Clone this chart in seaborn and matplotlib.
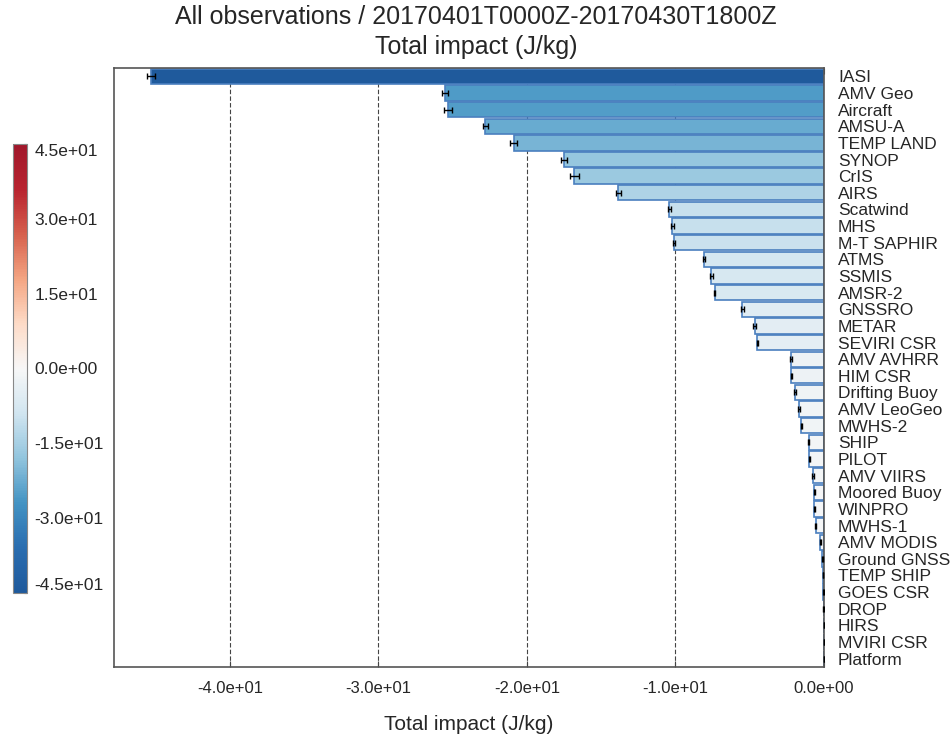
import numpy as np
import pandas as pd
import matplotlib
matplotlib.use("Agg")
import matplotlib.pyplot as plt
import seaborn as sns
from matplotlib import colors as mcolors, cm
from matplotlib.ticker import FixedLocator, FormatStrFormatter

# Observation types, ordered by total impact (most beneficial first)
obs_types = [
    "IASI", "AMV Geo", "Aircraft", "AMSU-A", "TEMP LAND", "SYNOP", "CrIS",
    "AIRS", "Scatwind", "MHS", "M-T SAPHIR", "ATMS", "SSMIS", "AMSR-2",
    "GNSSRO", "METAR", "SEVIRI CSR", "AMV AVHRR", "HIM CSR", "Drifting Buoy",
    "AMV LeoGeo", "MWHS-2", "SHIP", "PILOT", "AMV VIIRS", "Moored Buoy",
    "WINPRO", "MWHS-1", "AMV MODIS", "Ground GNSS", "TEMP SHIP", "GOES CSR",
    "DROP", "HIRS", "MVIRI CSR", "Platform",
]

# Total impact (J/kg)
impact = [
    -45.3, -25.5, -25.3, -22.8, -20.9, -17.5, -16.8,
    -13.85, -10.4, -10.2, -10.1, -8.06, -7.58, -7.37,
    -5.50, -4.66, -4.48, -2.24, -2.20, -1.97,
    -1.68, -1.52, -1.02, -0.98, -0.74, -0.64,
    -0.64, -0.56, -0.25, -0.12, -0.07, -0.05,
    -0.03, -0.02, -0.01, -0.005,
]

# Uncertainty of the total impact (J/kg)
impact_err = [
    0.27, 0.20, 0.27, 0.17, 0.25, 0.22, 0.28,
    0.18, 0.10, 0.10, 0.06, 0.08, 0.08, 0.06,
    0.10, 0.10, 0.05, 0.06, 0.04, 0.06,
    0.05, 0.05, 0.04, 0.06, 0.05, 0.04,
    0.05, 0.05, 0.04, 0.03, 0.03, 0.02,
    0.02, 0.01, 0.01, 0.005,
]

x_ticks = [-40, -30, -20, -10, 0]
cbar_ticks = [-45, -30, -15, 0, 15, 30, 45]
cbar_minor = [-37.5, -22.5, -7.5, 7.5, 22.5, 37.5]

# Blue-white-red diverging map with softened ends
cmap_nodes = ["#1f5a9c", "#2a6db0", "#4393c3", "#92c5de", "#d1e5f0", "#f7f7f7",
              "#fddbc7", "#f4a582", "#d6604d", "#b8232f", "#a0172b"]

sns.set_theme(style="white")
plt.rcParams["font.family"] = ["Liberation Sans", "DejaVu Sans"]

W, H = 952, 739
fig = plt.figure(figsize=(W / 100, H / 100), dpi=100)
ax = fig.add_axes([114 / W, 1 - 667 / H, (824 - 114) / W, (667 - 68) / H])
cax = fig.add_axes([13 / W, 1 - 593 / H, 14 / W, 449 / H])

cmap = mcolors.LinearSegmentedColormap.from_list("impact_rdbu", cmap_nodes)
norm = mcolors.Normalize(vmin=-45, vmax=45)

df = pd.DataFrame({"obs": obs_types, "impact": impact, "err": impact_err})
palette = {o: cmap(norm(v)) for o, v in zip(df["obs"], df["impact"])}

sns.barplot(
    data=df, x="impact", y="obs", hue="obs", palette=palette, legend=False,
    orient="h", ax=ax, width=0.92, edgecolor="#4a7fbf", linewidth=1.2,
    errorbar=None, saturation=1,
)
ax.errorbar(
    df["impact"], np.arange(len(df)), xerr=df["err"], fmt="none",
    ecolor="black", elinewidth=1.0, capsize=2, capthick=1.0, zorder=4,
)

ax.set_ylim(len(df) - 0.5, -0.5)
ax.set_xlim(1.055 * min(impact), 0)
ax.set_xticks(x_ticks)
ax.xaxis.set_major_formatter(FormatStrFormatter("%.1e"))
ax.tick_params(axis="x", direction="in", top=True, bottom=True, length=4,
               width=0.8, color="#444444", labelsize=12, pad=10)
ax.xaxis.grid(True, linestyle=(0, (4, 2)), color="#444444", linewidth=0.8)
ax.yaxis.grid(False)
ax.set_axisbelow(True)

ax.yaxis.tick_right()
ax.tick_params(axis="y", length=0, labelsize=12.5, pad=10)
ax.set_ylabel("")
ax.set_xlabel("Total impact (J/kg)", fontsize=15, labelpad=14)

for sp in ax.spines.values():
    sp.set_visible(True)
    sp.set_color("#555555")
    sp.set_linewidth(1.2)

fig.text(0.5, 1 - 5 / H,
         "All observations / 20170401T0000Z-20170430T1800Z\nTotal impact (J/kg)",
         ha="center", va="top", fontsize=18, linespacing=1.3)

cb = fig.colorbar(cm.ScalarMappable(norm=norm, cmap=cmap), cax=cax)
cb.set_ticks(cbar_ticks)
cb.ax.yaxis.set_major_formatter(FormatStrFormatter("%.1e"))
cb.ax.yaxis.set_minor_locator(FixedLocator(cbar_minor))
cb.ax.tick_params(which="both", direction="in", length=2, width=0.8,
                  color="#555555", labelsize=12.5, pad=5.5)
cb.outline.set_edgecolor("#888888")
cb.outline.set_linewidth(0.8)

# keep the end labels of the colour bar inside its extent
fig.canvas.draw()
cb_ticks = cb.ax.yaxis.get_major_ticks()
cb_ticks[0].label2.set_va("bottom")
cb_ticks[-1].label2.set_va("top")

fig.savefig("out.png", dpi=100)
